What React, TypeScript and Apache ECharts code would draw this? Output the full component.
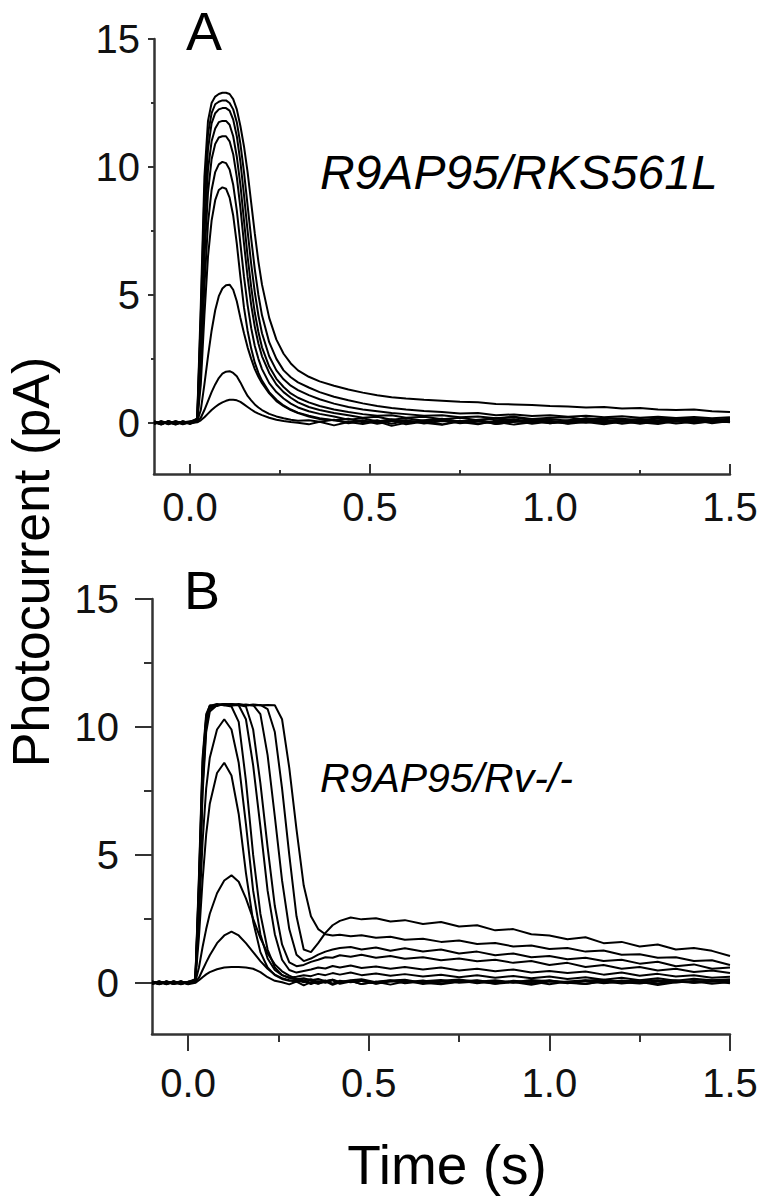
import React, { useEffect, useRef } from "react";
import * as echarts from "echarts";

// ---------- Panel A data (R9AP95/RKS561L) ----------
const timeA = [
  -0.1, -0.08, -0.06, -0.04, -0.02, 0,
  0.02, 0.03, 0.04, 0.05, 0.06, 0.07, 0.08, 0.09, 0.1, 0.11, 0.12, 0.13, 0.14, 0.15, 0.16, 0.17, 0.18, 0.19, 0.2,
  0.22, 0.24, 0.26, 0.28, 0.3,
  0.33, 0.36, 0.4, 0.44, 0.48, 0.52, 0.56, 0.6,
  0.65, 0.7, 0.75, 0.8, 0.85, 0.9, 0.95, 1.0, 1.05, 1.1, 1.15, 1.2, 1.25, 1.3, 1.35, 1.4, 1.45, 1.5,
];

const a1 = [
  0.04, -0.06, 0.07, -0.04, 0.03, -0.02,
  0.02, 0.1, 0.22, 0.36, 0.5, 0.62, 0.72, 0.8, 0.86, 0.9, 0.9, 0.88, 0.82, 0.72, 0.62, 0.52, 0.43, 0.36, 0.3,
  0.2, 0.12, 0.07, 0.03, 0.0,
  -0.06, 0.04, -0.1, 0.03, -0.05, 0.06, -0.12, 0.0,
  0.05, -0.06, 0.08, -0.03, 0.04, -0.07, 0.02, 0.06, -0.04, 0.03, -0.06, 0.05, 0.0, 0.07, -0.03, 0.04, 0.08, 0.02,
];
const a2 = [
  -0.03, 0.05, -0.05, 0.06, -0.02, 0.03,
  0.03, 0.2, 0.5, 0.85, 1.2, 1.5, 1.75, 1.92, 2.0, 2.02, 1.95, 1.82, 1.58, 1.3, 1.05, 0.88, 0.72, 0.6, 0.5,
  0.35, 0.25, 0.18, 0.12, 0.08,
  0.1, 0.04, 0.12, -0.02, 0.08, 0.0, 0.1, -0.06,
  0.05, 0.1, -0.02, 0.06, 0.02, 0.09, -0.04, 0.05, 0.0, 0.08, -0.03, 0.06, 0.02, -0.05, 0.07, 0.01, 0.05, 0.03,
];
const a3 = [
  0.05, -0.03, 0.04, -0.06, 0.02, 0.01,
  0.05, 0.5, 1.5, 2.6, 3.6, 4.4, 4.95, 5.25, 5.38, 5.4, 5.2, 4.75, 4.1, 3.5, 2.95, 2.5, 2.1, 1.8, 1.55,
  1.15, 0.85, 0.65, 0.5, 0.38,
  0.25, 0.15, 0.1, 0.02, 0.09, -0.04, 0.06, 0.1,
  -0.03, 0.07, 0.02, 0.1, -0.05, 0.04, 0.08, -0.02, 0.06, 0.0, 0.09, -0.04, 0.05, 0.02, 0.08, -0.03, 0.06, 0.04,
];
const a4 = [
  0.06, -0.04, 0.02, -0.07, 0.05, -0.01,
  0.05, 1.5, 4.2, 6.5, 7.9, 8.7, 9.1, 9.2, 9.15, 8.8, 8.1, 7.0, 5.7, 4.5, 3.6, 2.9, 2.35, 1.95, 1.65,
  1.2, 0.9, 0.68, 0.52, 0.4,
  0.28, 0.18, 0.1, 0.16, 0.02, 0.1, -0.04, 0.08,
  0.0, -0.08, 0.06, 0.1, -0.05, 0.04, 0.09, -0.02, 0.05, 0.12, 0.0, 0.07, -0.04, 0.06, 0.1, 0.02, 0.08, 0.04,
];
const a5 = [
  -0.05, 0.04, -0.02, 0.06, -0.06, 0.02,
  0.06, 2.0, 5.3, 7.8, 9.1, 9.8, 10.1, 10.2, 10.15, 9.9, 9.3, 8.3, 7.0, 5.7, 4.6, 3.7, 3.0, 2.5, 2.1,
  1.55, 1.2, 0.95, 0.75, 0.6,
  0.45, 0.35, 0.25, 0.12, 0.18, 0.05, 0.14, 0.02,
  0.1, 0.16, 0.03, -0.06, 0.09, 0.14, 0.02, 0.08, -0.03, 0.1, 0.06, 0.13, 0.0, 0.08, 0.04, 0.11, -0.02, 0.07,
];
const a6 = [
  0.03, -0.07, 0.05, 0.0, 0.04, -0.05,
  0.08, 2.6, 6.4, 9.0, 10.3, 10.9, 11.15, 11.2, 11.2, 11.0, 10.5, 9.6, 8.4, 7.0, 5.7, 4.6, 3.75, 3.1, 2.6,
  1.95, 1.5, 1.2, 0.98, 0.8,
  0.62, 0.5, 0.38, 0.3, 0.2, 0.24, 0.12, 0.18,
  0.08, 0.14, 0.05, 0.12, 0.18, 0.06, 0.13, 0.03, 0.1, 0.16, 0.05, 0.11, 0.14, 0.02, 0.09, 0.13, 0.05, 0.1,
];
const a7 = [
  -0.02, 0.05, -0.06, 0.04, 0.01, 0.06,
  0.1, 3.2, 7.4, 9.9, 11.0, 11.5, 11.75, 11.8, 11.8, 11.65, 11.2, 10.4, 9.3, 7.9, 6.5, 5.3, 4.3, 3.55, 2.95,
  2.2, 1.72, 1.4, 1.15, 0.98,
  0.8, 0.66, 0.52, 0.42, 0.34, 0.28, 0.3, 0.2,
  0.24, 0.14, 0.2, 0.1, 0.16, 0.22, 0.1, 0.15, 0.08, 0.18, 0.12, 0.06, 0.15, 0.1, 0.17, 0.08, 0.14, 0.12,
];
const a8 = [
  0.05, -0.03, 0.02, -0.05, 0.06, -0.02,
  0.12, 3.8, 8.3, 10.7, 11.7, 12.1, 12.25, 12.3, 12.3, 12.2, 11.85, 11.2, 10.2, 8.9, 7.5, 6.2, 5.1, 4.2, 3.5,
  2.6, 2.05, 1.7, 1.45, 1.28,
  1.08, 0.92, 0.75, 0.62, 0.52, 0.45, 0.38, 0.34,
  0.28, 0.3, 0.22, 0.25, 0.18, 0.24, 0.15, 0.2, 0.22, 0.12, 0.19, 0.16, 0.1, 0.18, 0.14, 0.2, 0.11, 0.16,
];
const a9 = [
  -0.04, 0.06, -0.02, 0.03, -0.05, 0.04,
  0.15, 4.2, 9.0, 11.3, 12.1, 12.45, 12.55, 12.6, 12.6, 12.5, 12.25, 11.75, 10.9, 9.8, 8.5, 7.2, 6.0, 5.0, 4.2,
  3.15, 2.5, 2.05, 1.78, 1.58,
  1.38, 1.2, 1.02, 0.88, 0.76, 0.66, 0.58, 0.52,
  0.46, 0.42, 0.36, 0.38, 0.3, 0.33, 0.27, 0.3, 0.24, 0.28, 0.22, 0.26, 0.2, 0.24, 0.19, 0.23, 0.18, 0.22,
];
const a10 = [
  0.02, -0.05, 0.06, -0.03, 0.04, 0.0,
  0.18, 4.6, 9.6, 11.8, 12.5, 12.75, 12.85, 12.9, 12.9, 12.85, 12.65, 12.25, 11.6, 10.8, 9.8, 8.6, 7.4, 6.3, 5.4,
  4.1, 3.25, 2.7, 2.32, 2.05,
  1.8, 1.62, 1.45, 1.3, 1.18, 1.08, 1.0, 0.95,
  0.9, 0.86, 0.82, 0.8, 0.74, 0.72, 0.7, 0.66, 0.64, 0.6, 0.62, 0.56, 0.58, 0.52, 0.5, 0.52, 0.45, 0.42,
];
const tracesA = [a1, a2, a3, a4, a5, a6, a7, a8, a9, a10];

// ---------- Panel B data (R9AP95/Rv-/-) ----------
const timeB = [
  -0.1, -0.08, -0.06, -0.04, -0.02, 0,
  0.02, 0.03, 0.04, 0.05, 0.06,
  0.08, 0.1, 0.12, 0.14, 0.16, 0.18, 0.2, 0.22, 0.24, 0.26, 0.28, 0.3, 0.32, 0.34, 0.36, 0.38, 0.4, 0.42,
  0.45, 0.48, 0.52, 0.56, 0.6,
  0.65, 0.7, 0.75, 0.8, 0.85, 0.9, 0.95, 1.0, 1.05, 1.1, 1.15, 1.2, 1.25, 1.3, 1.35, 1.4, 1.45, 1.5,
];

const b1 = [
  0.04, -0.05, 0.06, -0.03, 0.05, -0.06,
  0.0, 0.1, 0.22, 0.33, 0.42,
  0.53, 0.6, 0.62, 0.62, 0.6, 0.55, 0.42, 0.22, 0.08, 0.02, -0.06, 0.05, -0.1, 0.03, -0.04, 0.06, -0.08, 0.02,
  0.07, -0.05, 0.04, -0.07, 0.05,
  0.0, -0.06, 0.04, 0.08, -0.04, 0.03, -0.08, 0.05, 0.0, -0.05, 0.06, -0.03, 0.04, -0.09, 0.02, 0.06, -0.04, 0.03,
];
const b2 = [
  -0.03, 0.06, -0.04, 0.02, -0.06, 0.04,
  0.02, 0.2, 0.5, 0.8, 1.08,
  1.55, 1.85, 2.0, 1.85, 1.55, 1.2, 0.85, 0.55, 0.32, 0.18, 0.1, 0.04, 0.08, -0.05, 0.06, 0.0, 0.1, -0.04,
  0.05, 0.08, -0.03, 0.06, 0.1,
  -0.05, 0.04, 0.09, -0.02, 0.07, 0.0, 0.06, -0.06, 0.05, 0.1, -0.02, 0.04, 0.08, -0.04, 0.05, 0.0, 0.07, -0.02,
];
const b3 = [
  0.05, -0.02, 0.03, -0.05, 0.01, -0.03,
  0.04, 0.6, 1.4, 2.1, 2.7,
  3.5, 4.0, 4.2, 3.95, 3.3, 2.5, 1.75, 1.15, 0.72, 0.45, 0.28, 0.15, 0.1, 0.14, 0.03, 0.09, -0.03, 0.08,
  0.02, 0.1, -0.04, 0.06, 0.02,
  0.09, -0.03, 0.05, 0.1, 0.0, 0.06, -0.04, 0.08, 0.03, -0.05, 0.07, 0.02, -0.03, 0.06, 0.1, 0.0, 0.05, 0.08,
];
const b4 = [
  -0.04, 0.03, -0.06, 0.05, -0.01, 0.02,
  0.08, 1.8, 4.0, 5.8, 7.0,
  8.2, 8.6, 8.1, 6.6, 4.3, 2.4, 1.2, 0.6, 0.3, 0.15, 0.08, 0.12, 0.02, 0.1, -0.03, 0.06, 0.12, 0.0,
  0.08, -0.05, 0.04, 0.1, -0.02,
  0.06, 0.11, 0.0, 0.05, -0.04, 0.08, 0.03, 0.1, -0.02, 0.06, 0.0, 0.09, 0.04, -0.03, 0.07, 0.02, 0.1, 0.04,
];
const b5 = [
  0.02, -0.05, 0.04, -0.02, 0.06, -0.04,
  0.1, 2.5, 5.5, 7.6, 8.8,
  9.9, 10.3, 9.9, 8.6, 6.2, 3.6, 1.9, 0.95, 0.5, 0.3, 0.2, 0.14, 0.18, 0.1, 0.15, 0.06, 0.12, 0.03,
  0.1, 0.14, 0.02, 0.09, 0.12,
  0.0, 0.08, 0.13, 0.04, 0.1, 0.02, 0.11, 0.06, 0.0, 0.09, 0.12, 0.03, 0.08, 0.1, 0.01, 0.07, 0.05, 0.09,
];
const b6 = [
  0.03, -0.04, 0.05, -0.02, 0.04, -0.05,
  0.15, 4.2, 8.8, 10.5, 10.82,
  10.9, 10.85, 10.8, 10.2, 7.9, 5.0, 2.7, 1.3, 0.6, 0.3, 0.2, 0.24, 0.3, 0.26, 0.35, 0.3, 0.38, 0.32,
  0.4, 0.3, 0.36, 0.28, 0.34,
  0.25, 0.32, 0.22, 0.3, 0.2, 0.27, 0.18, 0.25, 0.15, 0.22, 0.12, 0.2, 0.1, 0.18, 0.08, 0.16, 0.1, 0.14,
];
const b7 = [
  -0.05, 0.02, -0.03, 0.06, -0.04, 0.03,
  0.14, 4.0, 8.6, 10.4, 10.85,
  10.82, 10.9, 10.85, 10.85, 10.3, 8.5, 6.1, 3.6, 1.9, 0.9, 0.5, 0.4, 0.46, 0.52, 0.6, 0.56, 0.66, 0.6,
  0.68, 0.58, 0.64, 0.55, 0.62,
  0.52, 0.6, 0.48, 0.55, 0.45, 0.52, 0.4, 0.46, 0.38, 0.44, 0.32, 0.4, 0.28, 0.35, 0.25, 0.3, 0.2, 0.24,
];
const b8 = [
  0.04, -0.06, 0.02, -0.03, 0.05, -0.01,
  0.12, 3.8, 8.3, 10.3, 10.8,
  10.88, 10.85, 10.9, 10.86, 10.8, 9.9, 7.8, 5.3, 3.0, 1.5, 0.8, 0.65, 0.7, 0.82, 0.9, 1.0, 0.98, 1.08,
  1.02, 1.1, 0.98, 1.05, 0.94,
  1.0, 0.88, 0.95, 0.84, 0.9, 0.78, 0.85, 0.7, 0.78, 0.62, 0.7, 0.55, 0.62, 0.48, 0.55, 0.42, 0.48, 0.38,
];
const b9 = [
  -0.02, 0.05, -0.05, 0.03, -0.01, 0.04,
  0.1, 3.5, 8.0, 10.2, 10.75,
  10.85, 10.9, 10.84, 10.88, 10.85, 10.86, 10.5, 8.9, 6.5, 4.0, 2.1, 1.1, 0.85, 0.95, 1.1, 1.22, 1.3, 1.36,
  1.4, 1.3, 1.38, 1.25, 1.35,
  1.22, 1.3, 1.15, 1.22, 1.08, 1.15, 1.0, 1.05, 0.92, 0.98, 0.85, 0.9, 0.75, 0.82, 0.65, 0.72, 0.55, 0.6,
];
const b10 = [
  0.05, -0.03, 0.04, -0.05, 0.02, -0.02,
  0.08, 3.2, 7.7, 10.0, 10.7,
  10.85, 10.88, 10.9, 10.85, 10.88, 10.84, 10.86, 10.7, 9.8, 7.6, 5.0, 2.6, 1.3, 1.2, 1.55, 1.95, 2.25, 2.42,
  2.55, 2.48, 2.52, 2.4, 2.45,
  2.3, 2.38, 2.2, 2.25, 2.05, 2.1, 1.9, 1.85, 1.7, 1.78, 1.55, 1.6, 1.42, 1.5, 1.3, 1.36, 1.25, 1.05,
];
const b11 = [
  -0.04, 0.04, -0.02, 0.05, -0.05, 0.01,
  0.06, 3.0, 7.4, 9.8, 10.6,
  10.85, 10.9, 10.86, 10.9, 10.84, 10.88, 10.85, 10.86, 10.85, 10.3, 8.4, 6.0, 3.8, 2.6, 2.1, 1.9, 1.85, 1.88,
  1.82, 1.86, 1.76, 1.8, 1.68,
  1.72, 1.6, 1.65, 1.52, 1.56, 1.42, 1.46, 1.32, 1.36, 1.22, 1.26, 1.1, 1.12, 0.98, 1.0, 0.85, 0.88, 0.7,
];
const tracesB = [b1, b2, b3, b4, b5, b6, b7, b8, b9, b10, b11];

// ---------- Axis ticks ----------
const xMajor = [0, 0.5, 1.0, 1.5];
const xMinor = [0.25, 0.75, 1.25];
const yMajor = [0, 5, 10, 15];
const yMinor = [2.5, 7.5, 12.5];
const xMin = -0.1;
const xMax = 1.5;
const yMin = -2;
const yMax = 15;

const FONT = '"Liberation Sans", Arial, Helvetica, sans-serif';
const AX = "#333333";

function pairs(t: number[], v: number[]) {
  const n = Math.min(t.length, v.length);
  const out: number[][] = [];
  for (let i = 0; i < n; i++) out.push([t[i], v[i]]);
  return out;
}

function xAxes(grid: number, inside: boolean, majorLen: number, minorLen: number, margin: number) {
  return [
    {
      gridIndex: grid,
      type: "value",
      position: "bottom",
      min: xMin,
      max: xMax,
      axisLine: { show: true, onZero: false, lineStyle: { color: AX, width: 2.5 } },
      axisTick: { show: true, inside, length: majorLen, customValues: xMajor, lineStyle: { color: AX, width: 2 } },
      axisLabel: {
        show: true,
        customValues: xMajor,
        formatter: (v: number) => v.toFixed(1),
        fontSize: 40,
        fontFamily: FONT,
        color: "#111",
        margin,
      },
      splitLine: { show: false },
    },
    {
      gridIndex: grid,
      type: "value",
      position: "bottom",
      min: xMin,
      max: xMax,
      axisLine: { show: false, onZero: false },
      axisTick: { show: true, inside, length: minorLen, customValues: xMinor, lineStyle: { color: AX, width: 2 } },
      axisLabel: { show: false },
      splitLine: { show: false },
    },
  ];
}

function yAxes(grid: number, majorLen: number, minorLen: number, margin: number) {
  return [
    {
      gridIndex: grid,
      type: "value",
      position: "left",
      min: yMin,
      max: yMax,
      axisLine: { show: true, onZero: false, lineStyle: { color: AX, width: 2.5 } },
      axisTick: { show: true, inside: false, length: majorLen, customValues: yMajor, lineStyle: { color: AX, width: 2 } },
      axisLabel: {
        show: true,
        customValues: yMajor,
        formatter: (v: number) => String(v),
        fontSize: 40,
        fontFamily: FONT,
        color: "#111",
        margin,
      },
      splitLine: { show: false },
    },
    {
      gridIndex: grid,
      type: "value",
      position: "left",
      min: yMin,
      max: yMax,
      axisLine: { show: false, onZero: false },
      axisTick: { show: true, inside: false, length: minorLen, customValues: yMinor, lineStyle: { color: AX, width: 2 } },
      axisLabel: { show: false },
      splitLine: { show: false },
    },
  ];
}

function traceSeries(t: number[], traces: number[][], axisIndex: number) {
  return traces.map((v, i) => ({
    type: "line",
    name: "trace" + axisIndex + "_" + i,
    xAxisIndex: axisIndex,
    yAxisIndex: axisIndex,
    data: pairs(t, v),
    showSymbol: false,
    symbol: "none",
    silent: true,
    clip: true,
    lineStyle: { color: "#000", width: 2 },
  }));
}

export default function App() {
  const ref = useRef<HTMLDivElement>(null);
  useEffect(() => {
    if (!ref.current) return;
    const chart = echarts.init(ref.current, null, { renderer: "svg" });
    const option: any = {
      animation: false,
      backgroundColor: "#ffffff",
      grid: [
        { left: 154, top: 39, width: 576, height: 435, outerBoundsMode: "none" },
        { left: 152, top: 599, width: 578, height: 435, outerBoundsMode: "none" },
      ],
      xAxis: [...xAxes(0, true, 10, 4, 13), ...xAxes(1, false, 17, 8, 29)],
      yAxis: [...yAxes(0, 6, 3, 14), ...yAxes(1, 17, 8, 33)],
      series: [...traceSeries(timeA, tracesA, 0), ...traceSeries(timeB, tracesB, 2)],
      graphic: [
        { type: "text", x: 186, y: 31, style: { text: "A", font: `54px ${FONT}`, fill: "#000", align: "left", verticalAlign: "middle" } },
        { type: "text", x: 184, y: 590, style: { text: "B", font: `54px ${FONT}`, fill: "#000", align: "left", verticalAlign: "middle" } },
        { type: "text", x: 320, y: 172, style: { text: "R9AP95/RKS561L", font: `italic 48px ${FONT}`, fill: "#000", align: "left", verticalAlign: "middle" } },
        { type: "text", x: 320, y: 778, style: { text: "R9AP95/Rv-/-", font: `italic 41px ${FONT}`, fill: "#000", align: "left", verticalAlign: "middle" } },
        { type: "text", x: 447, y: 1165, style: { text: "Time (s)", font: `55px ${FONT}`, fill: "#000", align: "center", verticalAlign: "middle" } },
        { type: "text", x: 31, y: 562, rotation: Math.PI / 2, style: { text: "Photocurrent (pA)", font: `52px ${FONT}`, fill: "#000", align: "center", verticalAlign: "middle" } },
      ],
    };
    chart.setOption(option);
    return () => chart.dispose();
  }, []);
  return (
    <div
      ref={ref}
      style={{ position: "absolute", left: 0, top: 0, width: 762, height: 1200, background: "#fff" }}
    />
  );
}
